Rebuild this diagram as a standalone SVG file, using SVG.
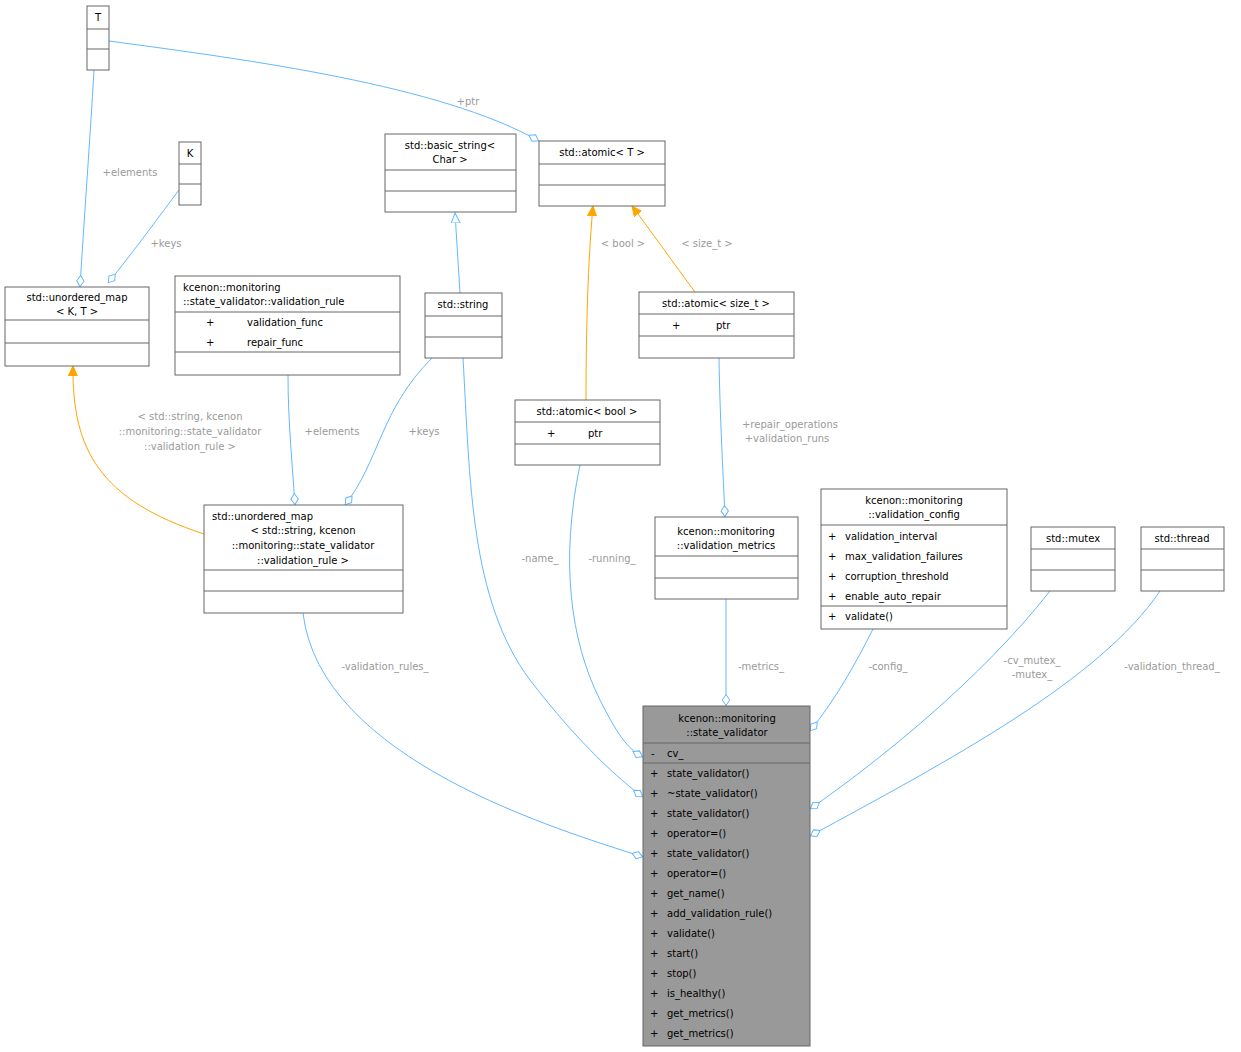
<svg xmlns="http://www.w3.org/2000/svg" width="1241" height="1052" viewBox="0 0 1241 1052">
<defs>
<style>
text{font-family:"DejaVu Sans","Liberation Sans",sans-serif;font-size:10px;fill:#000}
.n rect{fill:#fff;stroke:#666;stroke-width:1}
.n line{stroke:#666;stroke-width:1}
.c{fill:none;stroke:#63b8ff;stroke-width:1}
.o{fill:none;stroke:#ffa500;stroke-width:1}
.l{fill:#9a9a9a;text-anchor:middle}
.m{text-anchor:middle}
</style>
<marker id="d" markerWidth="14" markerHeight="10" refX="12" refY="4.5" orient="auto" markerUnits="userSpaceOnUse"><path d="M0.5,4.5 L6,0.8 L11.5,4.5 L6,8.2 Z" fill="#fff" stroke="#63b8ff"/></marker>
<marker id="a" markerWidth="12" markerHeight="12" refX="10" refY="5" orient="auto" markerUnits="userSpaceOnUse"><path d="M0,0.5 L10,5 L0,9.5 Z" fill="#ffa500" stroke="#ffa500"/></marker>
<marker id="t" markerWidth="12" markerHeight="12" refX="10" refY="5" orient="auto" markerUnits="userSpaceOnUse"><path d="M0,0.5 L10,5 L0,9.5 Z" fill="#fff" stroke="#63b8ff"/></marker>
</defs>
<rect width="1241" height="1052" fill="#fff"/>
<g id="edges">
<path class="c" d="M109,41 C250,60 440,85 539,141" marker-end="url(#d)"/>
<text class="l" x="468" y="105">+ptr</text>
<path class="c" d="M94,70 C90,140 84,220 80,287" marker-end="url(#d)"/>
<text class="l" x="130" y="176">+elements</text>
<path class="c" d="M179,190 C160,215 135,250 108,283" marker-end="url(#d)"/>
<text class="l" x="166" y="247">+keys</text>
<path class="o" d="M204,534 C100,500 72,450 73,366" marker-end="url(#a)"/>
<text class="l" x="190" y="420">&lt; std::string, kcenon</text>
<text class="l" x="190" y="435">::monitoring::state_validator</text>
<text class="l" x="190" y="450">::validation_rule &gt;</text>
<path class="c" d="M288,375 C288,420 292,460 295,505" marker-end="url(#d)"/>
<text class="l" x="332" y="435">+elements</text>
<path class="c" d="M432,358 C380,410 380,460 345,505" marker-end="url(#d)"/>
<text class="l" x="424" y="435">+keys</text>
<path class="c" d="M460,293 L455,213" marker-end="url(#t)"/>
<path class="o" d="M586,400 C586,330 588,260 593,206" marker-end="url(#a)"/>
<text class="l" x="623" y="247">&lt; bool &gt;</text>
<path class="o" d="M695,292 C675,265 650,230 632,206" marker-end="url(#a)"/>
<text class="l" x="707" y="247">&lt; size_t &gt;</text>
<path class="c" d="M719,358 C720,420 723,470 725,517" marker-end="url(#d)"/>
<text class="l" x="790" y="428">+repair_operations</text>
<text class="l" x="787" y="442">+validation_runs</text>
<path class="c" d="M726,599 L726,706" marker-end="url(#d)"/>
<text class="l" x="761" y="670">-metrics_</text>
<path class="c" d="M303,613 C320,760 560,830 643,857" marker-end="url(#d)"/>
<text class="l" x="385" y="670">-validation_rules_</text>
<path class="c" d="M463,358 C470,480 470,600 530,680 C580,745 620,780 643,797" marker-end="url(#d)"/>
<text class="l" x="540" y="562">-name_</text>
<path class="c" d="M580,465 C560,560 570,640 600,700 C620,740 630,750 643,757" marker-end="url(#d)"/>
<text class="l" x="612" y="562">-running_</text>
<path class="c" d="M873,629 C855,665 835,700 810,731" marker-end="url(#d)"/>
<text class="l" x="888" y="670">-config_</text>
<path class="c" d="M1050,591 C980,680 880,760 810,809" marker-end="url(#d)"/>
<text class="l" x="1032" y="664">-cv_mutex_</text>
<text class="l" x="1032" y="678">-mutex_</text>
<path class="c" d="M1160,591 C1100,680 950,760 810,836" marker-end="url(#d)"/>
<text class="l" x="1172" y="670">-validation_thread_</text>
</g>
<g id="T" class="n"><rect x="87" y="6" width="22" height="64"/><line x1="87" y1="29" x2="109" y2="29"/><line x1="87" y1="49" x2="109" y2="49"/><text class="m" x="98" y="21">T</text></g>
<g id="K" class="n"><rect x="179" y="142" width="22" height="63"/><line x1="179" y1="164" x2="201" y2="164"/><line x1="179" y1="184" x2="201" y2="184"/><text class="m" x="190" y="157">K</text></g>
<g id="umapKT" class="n"><rect x="5" y="287" width="144" height="79"/><line x1="5" y1="320" x2="149" y2="320"/><line x1="5" y1="343" x2="149" y2="343"/><text class="m" x="77" y="301">std::unordered_map</text><text class="m" x="77" y="315">&lt; K, T &gt;</text></g>
<g id="validation_rule" class="n"><rect x="175" y="276" width="225" height="99"/><line x1="175" y1="312" x2="400" y2="312"/><line x1="175" y1="352" x2="400" y2="352"/><text x="183" y="291">kcenon::monitoring</text><text x="183" y="305">::state_validator::validation_rule</text><text x="206" y="326">+</text><text x="247" y="326">validation_func</text><text x="206" y="346">+</text><text x="247" y="346">repair_func</text></g>
<g id="umap" class="n"><rect x="204" y="505" width="199" height="108"/><line x1="204" y1="570" x2="403" y2="570"/><line x1="204" y1="591" x2="403" y2="591"/><text x="212" y="520">std::unordered_map</text><text class="m" x="303" y="534">&lt; std::string, kcenon</text><text class="m" x="303" y="549">::monitoring::state_validator</text><text class="m" x="303" y="564">::validation_rule &gt;</text></g>
<g id="basic_string" class="n"><rect x="385" y="134" width="131" height="78"/><line x1="385" y1="170" x2="516" y2="170"/><line x1="385" y1="191" x2="516" y2="191"/><text class="m" x="450" y="149">std::basic_string&lt;</text><text class="m" x="450" y="163">Char &gt;</text></g>
<g id="string" class="n"><rect x="425" y="293" width="77" height="65"/><line x1="425" y1="316" x2="502" y2="316"/><line x1="425" y1="337" x2="502" y2="337"/><text class="m" x="463" y="308">std::string</text></g>
<g id="atomicT" class="n"><rect x="539" y="141" width="126" height="65"/><line x1="539" y1="164" x2="665" y2="164"/><line x1="539" y1="185" x2="665" y2="185"/><text class="m" x="602" y="156">std::atomic&lt; T &gt;</text></g>
<g id="atomic_size" class="n"><rect x="639" y="292" width="155" height="66"/><line x1="639" y1="314" x2="794" y2="314"/><line x1="639" y1="336" x2="794" y2="336"/><text class="m" x="716" y="307">std::atomic&lt; size_t &gt;</text><text x="672" y="329">+</text><text x="716" y="329">ptr</text></g>
<g id="atomic_bool" class="n"><rect x="515" y="400" width="145" height="65"/><line x1="515" y1="422" x2="660" y2="422"/><line x1="515" y1="444" x2="660" y2="444"/><text class="m" x="587" y="415">std::atomic&lt; bool &gt;</text><text x="547" y="437">+</text><text x="588" y="437">ptr</text></g>
<g id="metrics" class="n"><rect x="655" y="517" width="143" height="82"/><line x1="655" y1="556" x2="798" y2="556"/><line x1="655" y1="578" x2="798" y2="578"/><text class="m" x="726" y="535">kcenon::monitoring</text><text class="m" x="726" y="549">::validation_metrics</text></g>
<g id="config" class="n"><rect x="821" y="489" width="186" height="140"/><line x1="821" y1="525" x2="1007" y2="525"/><line x1="821" y1="606" x2="1007" y2="606"/><text class="m" x="914" y="504">kcenon::monitoring</text><text class="m" x="914" y="518">::validation_config</text><text x="828" y="540">+</text><text x="845" y="540">validation_interval</text><text x="828" y="560">+</text><text x="845" y="560">max_validation_failures</text><text x="828" y="580">+</text><text x="845" y="580">corruption_threshold</text><text x="828" y="600">+</text><text x="845" y="600">enable_auto_repair</text><text x="828" y="620">+</text><text x="845" y="620">validate()</text></g>
<g id="mutex" class="n"><rect x="1031" y="527" width="84" height="64"/><line x1="1031" y1="549" x2="1115" y2="549"/><line x1="1031" y1="570" x2="1115" y2="570"/><text class="m" x="1073" y="542">std::mutex</text></g>
<g id="thread" class="n"><rect x="1141" y="527" width="83" height="64"/><line x1="1141" y1="549" x2="1224" y2="549"/><line x1="1141" y1="570" x2="1224" y2="570"/><text class="m" x="1182" y="542">std::thread</text></g>
<g id="state_validator" class="n"><rect x="643" y="706" width="167" height="340" style="fill:#999"/><line x1="643" y1="743" x2="810" y2="743"/><line x1="643" y1="763" x2="810" y2="763"/><text class="m" x="727" y="722">kcenon::monitoring</text><text class="m" x="727" y="736">::state_validator</text><text x="651" y="757">-</text><text x="667" y="757">cv_</text>
<text x="650" y="777">+</text><text x="667" y="777">state_validator()</text>
<text x="650" y="797">+</text><text x="667" y="797">~state_validator()</text>
<text x="650" y="817">+</text><text x="667" y="817">state_validator()</text>
<text x="650" y="837">+</text><text x="667" y="837">operator=()</text>
<text x="650" y="857">+</text><text x="667" y="857">state_validator()</text>
<text x="650" y="877">+</text><text x="667" y="877">operator=()</text>
<text x="650" y="897">+</text><text x="667" y="897">get_name()</text>
<text x="650" y="917">+</text><text x="667" y="917">add_validation_rule()</text>
<text x="650" y="937">+</text><text x="667" y="937">validate()</text>
<text x="650" y="957">+</text><text x="667" y="957">start()</text>
<text x="650" y="977">+</text><text x="667" y="977">stop()</text>
<text x="650" y="997">+</text><text x="667" y="997">is_healthy()</text>
<text x="650" y="1017">+</text><text x="667" y="1017">get_metrics()</text>
<text x="650" y="1037">+</text><text x="667" y="1037">get_metrics()</text></g>
</svg>
